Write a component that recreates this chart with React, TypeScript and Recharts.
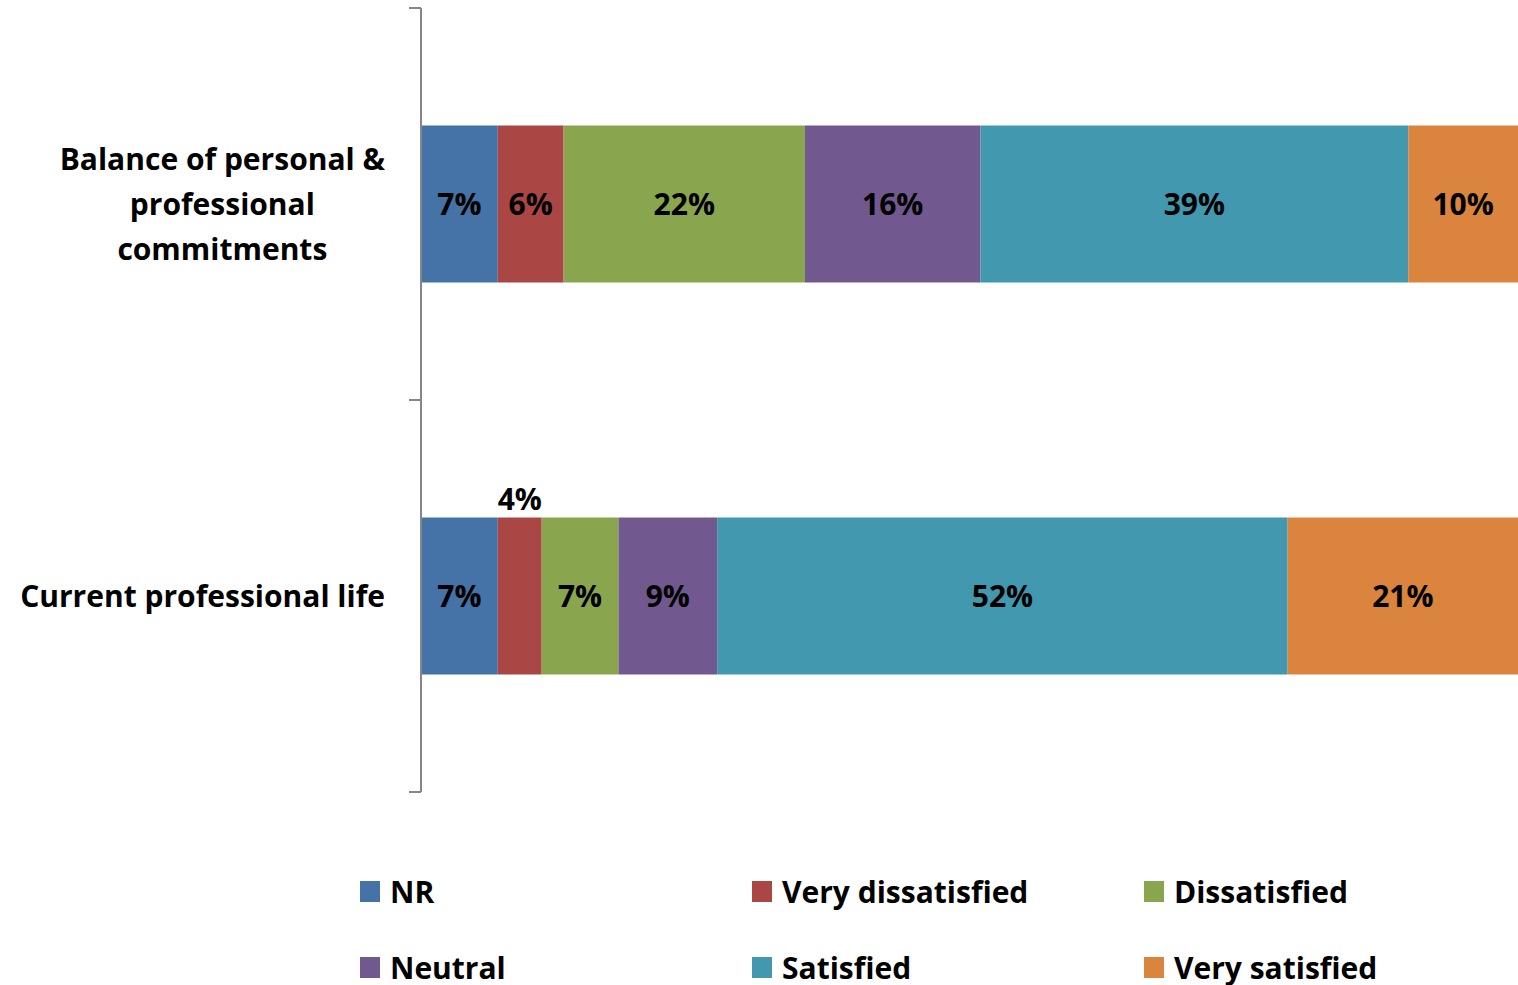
import React from "react";
import {
  BarChart,
  Bar,
  XAxis,
  YAxis,
  Legend,
  LabelList,
} from "recharts";

const categories = [
  "Balance of personal & professional commitments",
  "Current professional life",
];

const nr = [7, 7];
const veryDissatisfied = [6, 4];
const dissatisfied = [22, 7];
const neutral = [16, 9];
const satisfied = [39, 52];
const verySatisfied = [10, 21];

const series = [
  { key: "nr", name: "NR", color: "#4572A7", values: nr },
  { key: "veryDissatisfied", name: "Very dissatisfied", color: "#AA4643", values: veryDissatisfied },
  { key: "dissatisfied", name: "Dissatisfied", color: "#89A54E", values: dissatisfied },
  { key: "neutral", name: "Neutral", color: "#71588F", values: neutral },
  { key: "satisfied", name: "Satisfied", color: "#4198AF", values: satisfied },
  { key: "verySatisfied", name: "Very satisfied", color: "#DB843D", values: verySatisfied },
];

const data = categories.map((name, i) => {
  const row: Record<string, string | number> = { name };
  series.forEach((s) => {
    row[s.key] = s.values[i];
  });
  return row;
});

const WIDTH = 1518;
const HEIGHT = 985;
const AXIS_WIDTH = 421;
const LEGEND_HEIGHT = 193;
const FONT = "'Open Sans', 'Noto Sans', sans-serif";
const LABEL_SIZE = 30;
const WRAP_WIDTH = 380;

// plot height / number of categories, used for the boundary tick marks
const BAND = (HEIGHT - LEGEND_HEIGHT - 8) / categories.length;

let ctx: CanvasRenderingContext2D | null = null;
function measure(text: string) {
  if (!ctx) ctx = document.createElement("canvas").getContext("2d");
  if (!ctx) return text.length * 15;
  ctx.font = `bold ${LABEL_SIZE}px ${FONT}`;
  return ctx.measureText(text).width;
}

function wrap(text: string, maxWidth: number) {
  const words = text.split(" ");
  const lines: string[] = [];
  let cur = "";
  words.forEach((w) => {
    const next = cur ? `${cur} ${w}` : w;
    if (cur && measure(next) > maxWidth) {
      lines.push(cur);
      cur = w;
    } else {
      cur = next;
    }
  });
  if (cur) lines.push(cur);
  return lines;
}

const CategoryTick = (props: any) => {
  const { x, y, payload, index } = props;
  const lines = wrap(String(payload.value), WRAP_WIDTH);
  const blockWidth = Math.max(...lines.map(measure));
  const cx = x - blockWidth / 2;
  const lineH = 45;
  const startY = y - ((lines.length - 1) * lineH) / 2;
  const axisX = x + 36;
  return (
    <g>
      <line x1={axisX - 12} x2={axisX} y1={y - BAND / 2} y2={y - BAND / 2} stroke="#868686" strokeWidth={2} />
      {index === categories.length - 1 && (
        <line x1={axisX - 12} x2={axisX} y1={y + BAND / 2} y2={y + BAND / 2} stroke="#868686" strokeWidth={2} />
      )}
      <text
        textAnchor="middle"
        fontFamily={FONT}
        fontWeight="bold"
        fontSize={LABEL_SIZE}
        fill="#000"
      >
        {lines.map((l, i) => (
          <tspan key={i} x={cx} y={startY + i * lineH} dy="0.35em">
            {l}
          </tspan>
        ))}
      </text>
    </g>
  );
};

const ValueLabel = (props: any) => {
  const { x, y, width, height, value } = props;
  // narrow segments get their label above the bar
  const above = width < 50;
  return (
    <text
      x={x + width / 2}
      y={above ? y - 18 : y + height / 2}
      dy="0.35em"
      textAnchor="middle"
      fontFamily={FONT}
      fontWeight="bold"
      fontSize={LABEL_SIZE}
      fill="#000"
    >
      {`${value}%`}
    </text>
  );
};

const LegendContent = () => {
  const cols = [360, 752, 1144];
  const rows = [99, 175];
  return (
    <div style={{ position: "relative", width: WIDTH, height: LEGEND_HEIGHT }}>
      {series.map((s, i) => (
        <div
          key={s.key}
          style={{
            position: "absolute",
            left: cols[i % 3],
            top: rows[Math.floor(i / 3)] - 20,
            height: 40,
            display: "flex",
            alignItems: "center",
            fontFamily: FONT,
            fontWeight: "bold",
            fontSize: LABEL_SIZE,
            color: "#000",
            whiteSpace: "nowrap",
          }}
        >
          <span style={{ display: "inline-block", width: 20, height: 21, background: s.color, marginRight: 10 }} />
          {s.name}
        </div>
      ))}
    </div>
  );
};

export default function App() {
  return (
    <div style={{ position: "absolute", left: 0, top: 0, width: WIDTH, height: HEIGHT, background: "#fff" }}>
      <BarChart
        width={WIDTH}
        height={HEIGHT}
        data={data}
        layout="vertical"
        barCategoryGap="30%"
        margin={{ top: 8, right: 0, bottom: 0, left: 0 }}
      >
        <XAxis type="number" domain={[0, 100]} hide />
        <YAxis
          type="category"
          dataKey="name"
          width={AXIS_WIDTH}
          axisLine={{ stroke: "#868686", strokeWidth: 2 }}
          tickLine={false}
          tickSize={8}
          tickMargin={28}
          tick={<CategoryTick />}
          interval={0}
        />
        <Legend
          verticalAlign="bottom"
          content={<LegendContent />}
          wrapperStyle={{ left: 0, width: WIDTH, height: LEGEND_HEIGHT }}
        />
        {series.map((s) => (
          <Bar key={s.key} dataKey={s.key} name={s.name} stackId="a" fill={s.color} isAnimationActive={false}>
            <LabelList dataKey={s.key} content={<ValueLabel />} />
          </Bar>
        ))}
      </BarChart>
    </div>
  );
}
